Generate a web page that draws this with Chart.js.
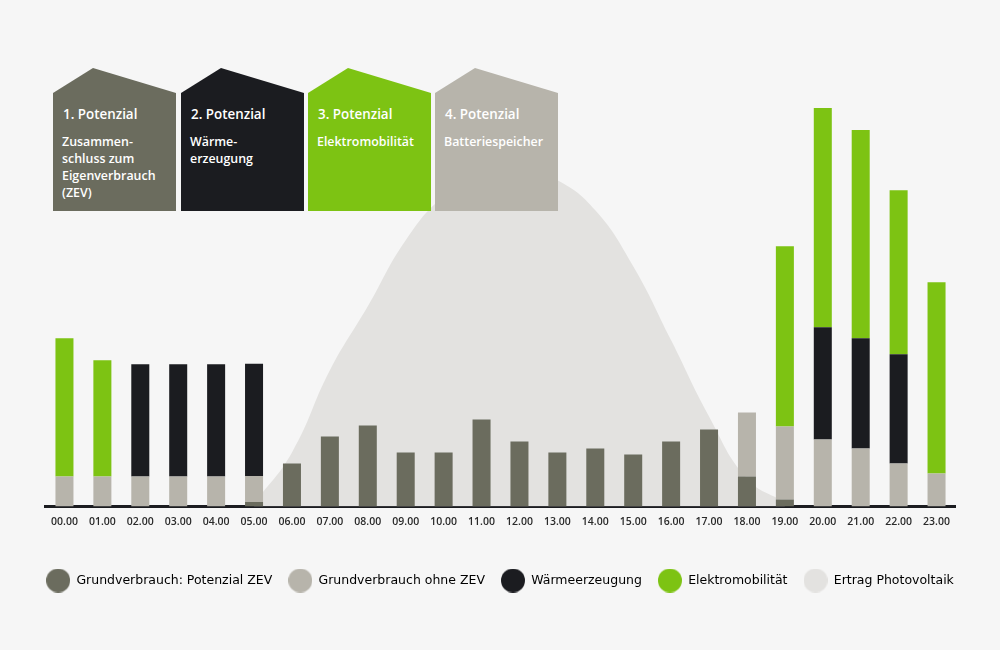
<!DOCTYPE html>
<html>
<head>
<meta charset="utf-8">
<script src="https://cdn.jsdelivr.net/npm/chart.js@4.4.1/dist/chart.umd.min.js"></script>
<style>
  html, body { margin: 0; padding: 0; background: #f6f6f6; }
  #wrap { position: relative; width: 1000px; height: 650px; background: #f6f6f6; overflow: hidden; }
  #chart { position: absolute; left: 0; top: 0; }
  .house { position: absolute; top: 68px; width: 123px; height: 143px;
    clip-path: polygon(0 25px, 40px 0, 100% 25px, 100% 100%, 0 100%);
    font-family: 'Open Sans', sans-serif; color: #ffffff; box-sizing: border-box; }
  .house .t { position: absolute; left: 10px; top: 38px; font-size: 13.4px; font-weight: 600; line-height: 17px; white-space: nowrap; }
  .house .s { position: absolute; left: 9px; top: 65px; font-size: 12.4px; font-weight: 600; line-height: 17px; white-space: nowrap; }
</style>
</head>
<body>
<div id="wrap">
  <canvas id="chart" width="1000" height="650"></canvas>
  <div class="house" style="left:53px;background:#6b6c5e"><div class="t">1. Potenzial</div><div class="s">Zusammen-<br>schluss zum<br>Eigenverbrauch<br>(ZEV)</div></div>
  <div class="house" style="left:181px;background:#1b1c20"><div class="t">2. Potenzial</div><div class="s">Wärme-<br>erzeugung</div></div>
  <div class="house" style="left:308px;background:#7dc313"><div class="t">3. Potenzial</div><div class="s">Elektromobilität</div></div>
  <div class="house" style="left:435px;background:#b7b4ab"><div class="t">4. Potenzial</div><div class="s">Batteriespeicher</div></div>
</div>
<script>
const hours = ['00.00','01.00','02.00','03.00','04.00','05.00','06.00','07.00','08.00','09.00','10.00','11.00',
               '12.00','13.00','14.00','15.00','16.00','17.00','18.00','19.00','20.00','21.00','22.00','23.00'];
const grundZEV    = [0,0,0,0,0,0.45,4.3,7.0,8.1,5.4,5.4,8.7,6.5,5.4,5.8,5.2,6.5,7.7,3.0,0.7,0,0,0,0];
const grundOhne   = [3.0,3.0,3.0,3.0,3.0,2.6,0,0,0,0,0,0,0,0,0,0,0,0,6.4,7.3,6.7,5.8,4.3,3.3];
const waerme      = [0,0,11.2,11.2,11.2,11.2,0,0,0,0,0,0,0,0,0,0,0,0,0,0,11.2,11.0,10.9,0];
const elektro     = [13.8,11.6,0,0,0,0,0,0,0,0,0,0,0,0,0,0,0,0,0,18.0,21.9,20.8,16.4,19.1];
const photovoltaik= [null,null,null,null,null,0.3,5.4,13.6,20.0,26.6,31.0,33.2,33.8,32.6,29.6,24.0,16.6,9.0,2.8,0.4,null,null,null,null];

const seriesNames = ['Grundverbrauch: Potenzial ZEV','Grundverbrauch ohne ZEV','Wärmeerzeugung','Elektromobilität','Ertrag Photovoltaik'];
const colors = ['#6b6c5e','#b7b4ab','#1b1c20','#7dc313','#e3e2e0'];

function dot(color){
  const c = document.createElement('canvas');
  c.width = 24; c.height = 24;
  const g = c.getContext('2d');
  g.fillStyle = color; g.beginPath(); g.arc(12,12,12,0,Math.PI*2); g.fill();
  return c;
}

Chart.defaults.font.family = "'Open Sans', sans-serif";

const barDs = (i, data) => ({
  type: 'bar', label: seriesNames[i], data, backgroundColor: colors[i], borderWidth: 0,
  stack: 'load', order: 1, barPercentage: 1, categoryPercentage: 0.475
});

const spacerAxis = (pos, w) => ({
  type: 'linear', position: pos, display: true, min: 0, max: 44.6,
  grid: { display: false }, border: { display: false }, ticks: { display: false },
  afterFit: (s) => { s.width = w; }
});

new Chart(document.getElementById('chart'), {
  data: {
    labels: hours,
    datasets: [
      barDs(0, grundZEV), barDs(1, grundOhne), barDs(2, waerme), barDs(3, elektro),
      { type: 'line', label: seriesNames[4], data: photovoltaik, stack: 'pv', order: 10,
        fill: 'origin', backgroundColor: colors[4], borderWidth: 0, borderColor: colors[4],
        pointRadius: 0, tension: 0.45, spanGaps: false }
    ]
  },
  options: {
    responsive: false, animation: false, devicePixelRatio: 1,
    layout: { padding: { left: 0, right: 0, top: 60, bottom: 53.25 } },
    plugins: {
      tooltip: { enabled: false },
      legend: {
        position: 'bottom',
        labels: {
          usePointStyle: true, pointStyleWidth: 24, padding: 16,
          color: '#1b1c20', font: { size: 12.5, weight: 'normal', family: "'DejaVu Sans', sans-serif" },
          generateLabels: () => seriesNames.map((n, i) => ({
            text: n, fillStyle: colors[i], strokeStyle: colors[i], lineWidth: 0,
            pointStyle: dot(colors[i]), hidden: false, datasetIndex: i
          }))
        }
      }
    },
    scales: {
      x: {
        stacked: true, z: 1,
        grid: { display: false },
        border: { display: true, color: '#1b1c20', width: 3 },
        ticks: { color: '#2a2a2a', font: { size: 10.5, weight: '600' }, padding: 1, maxRotation: 0, autoSkip: false },
        afterFit: (s) => { s.height = 51.75; }
      },
      y: Object.assign(spacerAxis('left', 45.5), { stacked: true }),
      yRight: spacerAxis('right', 44.5)
    }
  }
});
</script>
</body>
</html>
